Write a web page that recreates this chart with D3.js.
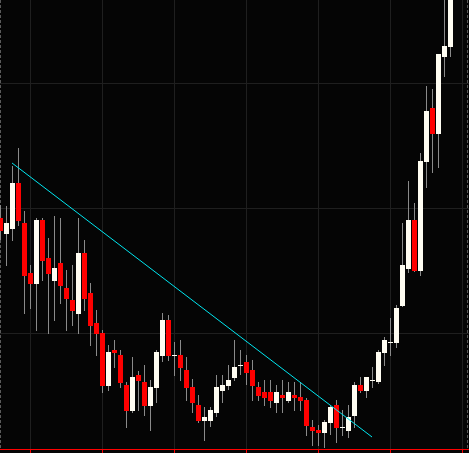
<!DOCTYPE html>
<html>
<head>
<meta charset="utf-8">
<script src="https://cdn.jsdelivr.net/npm/d3@7"></script>
<style>
  html, body { margin: 0; padding: 0; background: #000; }
  svg { display: block; }
</style>
</head>
<body>
<svg id="chart" width="469" height="453"></svg>
<script>
// OHLC values, one entry per bar
var opens  = [109.22,107.92,108.32,112.02,108.80,104.80,103.92,109.06,106.02,104.16,
              105.60,103.60,102.64,101.54,106.40,103.18,100.80,100.00,95.78,98.64,
              98.24,95.84,93.76,96.64,96.08,94.16,95.60,98.18,101.04,98.24,
              98.24,97.04,95.68,94.24,92.96,92.96,93.60,95.36,95.76,96.40,
              97.44,97.68,97.04,95.68,95.28,95.28,94.40,95.04,94.56,95.04,
              94.88,94.64,92.48,92.24,92.00,92.80,94.24,92.48,92.16,93.36,
              95.84,95.36,96.24,96.08,98.40,99.28,99.22,102.18,105.14,109.04,
              104.98,113.70,118.00,115.94,122.10,122.90];
var highs  = [110.24,110.16,113.38,114.80,109.76,105.44,109.20,109.20,107.60,109.36,
              109.20,105.04,105.44,109.20,107.44,104.00,101.84,100.24,99.04,99.44,
              98.64,96.08,98.08,96.96,97.44,96.24,98.64,101.58,101.44,99.30,
              99.44,98.08,96.32,95.04,94.08,94.08,96.64,96.64,97.44,99.44,
              98.64,98.24,97.84,96.08,96.24,96.24,95.84,96.24,96.08,96.08,
              96.08,94.80,93.04,92.64,93.04,94.24,94.64,93.84,94.24,96.10,
              96.50,96.48,97.28,98.64,99.68,101.20,102.24,108.82,112.16,110.42,
              114.38,119.76,119.52,122.32,127.44,128.24];
var lows   = [107.44,105.38,107.38,108.56,101.52,101.92,100.18,104.16,99.92,100.98,
              102.32,100.18,100.58,99.92,101.78,98.98,98.16,95.22,95.38,97.22,
              95.62,92.42,93.60,93.76,93.36,92.16,94.42,97.68,97.76,96.56,
              96.16,94.56,93.60,92.80,91.38,92.50,93.28,94.40,95.44,96.16,
              96.64,95.84,94.56,94.56,94.16,94.00,93.60,93.60,94.40,93.76,
              93.76,91.76,90.96,90.96,90.80,91.84,91.20,91.76,91.60,92.40,
              95.22,94.80,95.60,95.92,97.36,98.16,98.82,102.08,104.78,104.88,
              104.58,111.58,112.78,113.18,120.50,122.10];
var closes = [108.16,108.82,112.02,108.96,104.58,103.92,109.06,105.76,104.74,105.22,
              103.78,102.72,101.78,106.40,102.72,100.58,99.94,95.78,98.48,98.40,
              96.00,93.76,96.48,96.16,94.16,95.68,98.48,101.04,98.18,98.24,
              97.20,95.60,94.40,92.96,93.28,93.84,95.68,95.84,96.24,97.28,
              97.44,96.80,95.76,94.96,94.80,94.56,95.28,94.80,95.28,94.80,
              94.56,92.56,92.16,92.00,92.88,94.08,92.40,92.48,93.28,95.84,
              95.36,96.48,96.24,98.48,99.44,99.28,102.00,105.44,109.04,104.98,
              113.76,117.76,115.94,122.32,122.96,127.84];

// trend line drawn over the highs: [bar index, price]
var trendIdx = [1.92, 61.92];
var trendPrice = [113.6, 91.68];

var gridPrices = [100, 110, 120];
var gridBars = [5, 17, 29, 41, 53, 65, 77];

var bars = opens.map(function(o, i) {
  return { i: i, open: o, high: highs[i], low: lows[i], close: closes[i] };
});

var svg = d3.select("#chart");
var W = 469, H = 453, axisY = 449.5;

var x = d3.scaleLinear().domain([0, 75]).range([0.5, 450.5]);
var y = d3.scaleLinear().domain([100, 120]).range([333, 83]);

svg.append("rect").attr("width", W).attr("height", H).attr("fill", "#050505");

svg.append("defs").append("clipPath").attr("id", "plot")
  .append("rect").attr("x", 0).attr("y", 0).attr("width", W).attr("height", axisY);

// grid
var grid = svg.append("g").attr("shape-rendering", "crispEdges");
grid.selectAll("line.h").data(gridPrices).enter().append("line")
  .attr("x1", 0).attr("x2", W)
  .attr("y1", d => Math.round(y(d)) + 0.5).attr("y2", d => Math.round(y(d)) + 0.5)
  .attr("stroke", "#1f1f1f");
grid.selectAll("line.v").data(gridBars).enter().append("line")
  .attr("x1", d => x(d)).attr("x2", d => x(d))
  .attr("y1", 0).attr("y2", axisY)
  .attr("stroke", "#1f1f1f");

// dashed edges
[0.5, 467.5].forEach(function(px) {
  grid.append("line")
    .attr("x1", px).attr("x2", px).attr("y1", 0).attr("y2", axisY)
    .attr("stroke", "#5a5a5a").attr("stroke-dasharray", "3,2");
});

var plot = svg.append("g").attr("clip-path", "url(#plot)").attr("shape-rendering", "crispEdges");

// wicks
plot.selectAll("line.wick").data(bars).enter().append("line")
  .attr("x1", d => x(d.i)).attr("x2", d => x(d.i))
  .attr("y1", d => y(d.high)).attr("y2", d => y(d.low))
  .attr("stroke", "#8a8a8a");

// bodies
plot.selectAll("rect.body").data(bars).enter().append("rect")
  .attr("x", d => x(d.i) - 2.5)
  .attr("width", 5)
  .attr("y", d => y(Math.max(d.open, d.close)))
  .attr("height", d => Math.max(1, Math.abs(y(d.open) - y(d.close))))
  .attr("fill", d => d.close >= d.open ? "#fffdf2" : "#ff0000");

// trend line
plot.append("line")
  .attr("x1", x(trendIdx[0])).attr("y1", y(trendPrice[0]))
  .attr("x2", x(trendIdx[1])).attr("y2", y(trendPrice[1]))
  .attr("stroke", "#00e6f0").attr("stroke-width", 1)
  .attr("shape-rendering", "auto");

// bottom axis line with ticks
svg.append("line")
  .attr("x1", 0).attr("x2", W).attr("y1", axisY).attr("y2", axisY)
  .attr("stroke", "#ff0000").attr("shape-rendering", "crispEdges");
svg.selectAll("line.tick").data(gridBars).enter().append("line")
  .attr("x1", d => x(d)).attr("x2", d => x(d))
  .attr("y1", axisY).attr("y2", axisY + 3)
  .attr("stroke", "#ff0000").attr("shape-rendering", "crispEdges");
</script>
</body>
</html>
